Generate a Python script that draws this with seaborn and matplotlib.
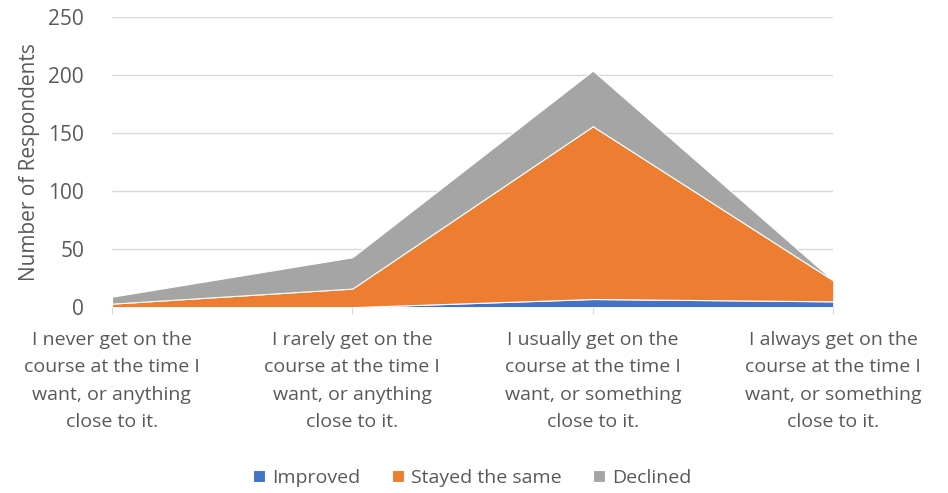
import numpy as np
import pandas as pd
import matplotlib
matplotlib.use("Agg")
import matplotlib.pyplot as plt
import seaborn as sns

# Datos
categorias = [
    "I never get on the\ncourse at the time I\nwant, or anything\nclose to it.",
    "I rarely get on the\ncourse at the time I\nwant, or anything\nclose to it.",
    "I usually get on the\ncourse at the time I\nwant, or something\nclose to it.",
    "I always get on the\ncourse at the time I\nwant, or something\nclose to it.",
]
improved = [0, 0, 7, 5]
stayed = [3, 16, 149, 18]
declined = [6, 27, 48, 0]
series = ["Improved", "Stayed the same", "Declined"]
colores = ["#4472C4", "#ED7D31", "#A5A5A5"]

df = pd.DataFrame({"Improved": improved, "Stayed the same": stayed, "Declined": declined},
                  index=categorias)

sns.set_style("white")
plt.rcParams["font.family"] = ["Open Sans", "DejaVu Sans"]

fig = plt.figure(figsize=(9.48, 4.93), dpi=100)
ax = fig.add_axes([0.118, 0.377, 0.761, 0.588])

x = np.arange(len(categorias))
ax.stackplot(x, df[series].T.values, labels=series, colors=colores,
             edgecolor="white", linewidth=0.8, zorder=3)

ax.set_xlim(0, len(categorias) - 1)
ax.set_ylim(0, 250)
ax.set_yticks(range(0, 251, 50))
ax.yaxis.grid(True, color="#D9D9D9", linewidth=1, zorder=0)
ax.set_axisbelow(True)

ax.set_xticks(x)
ax.set_xticklabels(categorias, fontsize=14, color="#595959", linespacing=1.68)
ax.tick_params(axis="x", length=5, color="#D9D9D9", pad=12, bottom=True)
ax.tick_params(axis="y", length=0, labelsize=15, labelcolor="#595959", pad=20)
ax.set_ylabel("Number of Respondents", fontsize=15, color="#595959", labelpad=6)

for s in ["top", "right", "left"]:
    ax.spines[s].set_visible(False)
ax.spines["bottom"].set_color("#D9D9D9")

ax.legend(loc="center", bbox_to_anchor=(0.5, -0.59), ncol=3, frameon=False,
          fontsize=14, labelcolor="#595959", handlelength=0.6, handleheight=0.6,
          columnspacing=1.6, handletextpad=0.4)

plt.savefig("out.png", dpi=100)
